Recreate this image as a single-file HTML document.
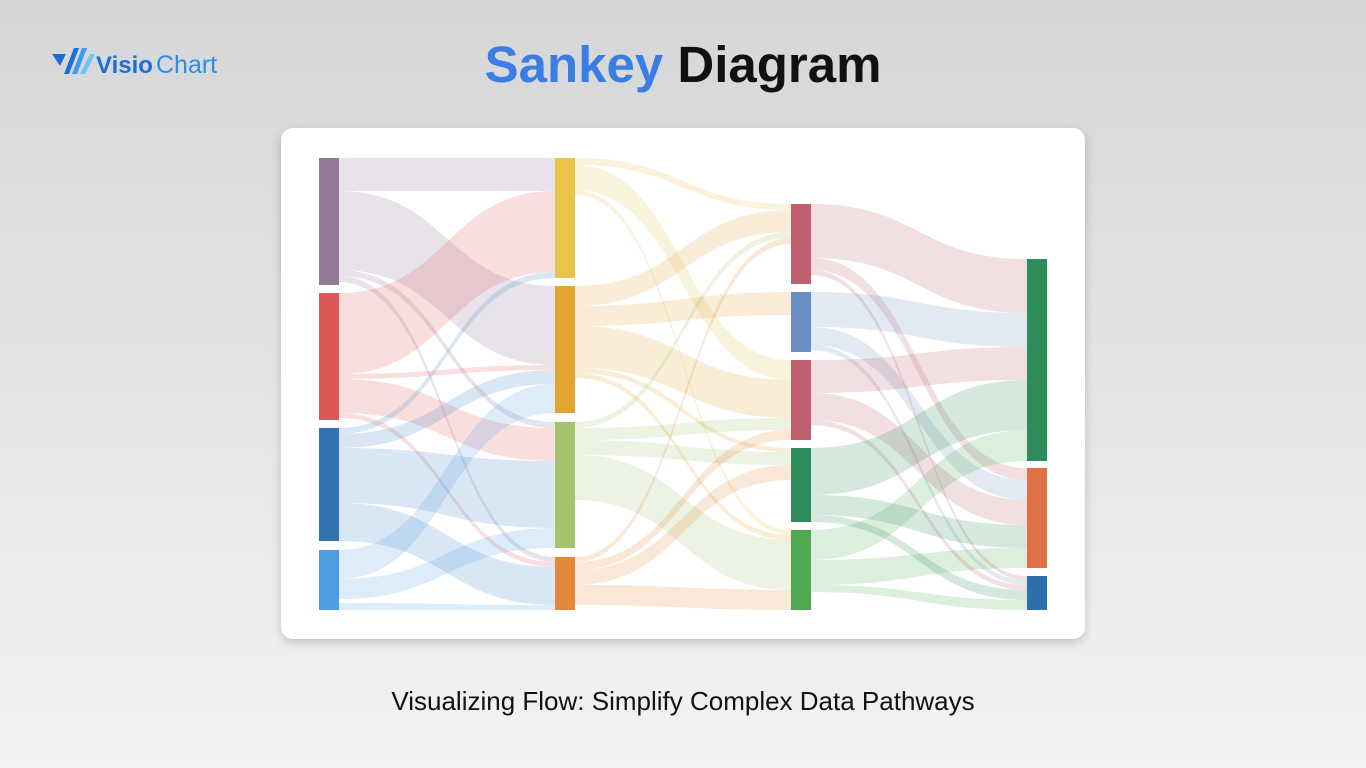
<!DOCTYPE html>
<html><head><meta charset="utf-8"><style>
html,body{margin:0;padding:0}
body{width:1366px;height:768px;overflow:hidden;background:linear-gradient(#d5d6d8,#f3f3f3);font-family:"Liberation Sans",sans-serif;position:relative}
.title{position:absolute;top:35px;left:0;width:1366px;text-align:center;font-size:51px;font-weight:bold;letter-spacing:0px}
.card{position:absolute;left:281px;top:128px;width:804px;height:511px;background:#fff;border-radius:12px;box-shadow:0 4px 10px rgba(0,0,0,0.18)}
.sub{position:absolute;top:686px;left:0;width:1366px;text-align:center;font-size:26px;color:#111}
.logo{position:absolute;left:50px;top:44px}
</style></head><body>
<div class="logo"><svg width="180" height="36">
<polygon points="2,10 16,10 10,22" fill="#1a6fd8"/>
<polygon points="14,30 24,4 29,4 19,30" fill="#1a6fd8"/>
<polygon points="22,30 32,4 37,4 27,30" fill="#3b9cf0"/>
<polygon points="30,30 40,10 45,10 35,30" fill="#6cc4f5"/>
<text x="46" y="29" font-family="Liberation Sans" font-size="24" font-weight="bold" fill="#1a6fd8">Visio</text>
<text x="106" y="29" font-family="Liberation Sans" font-size="25" fill="#2a8ee6">Chart</text>
</svg></div>
<div class="title"><span style="color:#3b7de2">Sankey</span> <span style="color:#111">Diagram</span></div>
<div class="card"></div>
<svg id="s" width="1366" height="768" style="position:absolute;left:0;top:0"></svg>
<div class="sub">Visualizing Flow: Simplify Complex Data Pathways</div>
<script>
var c1=339,c2=555,c3=575,c4=791,c5=811,c6=1027;
var L=[
[c1,158,191,c2,158,191,'#8e7398'],[c1,191,270,c2,286,365,'#8e7398'],[c1,270,276,c2,422,428,'#8e7398'],[c1,276,282,c2,557,562,'#8e7398'],
[c1,293,374,c2,191,272,'#e05a5a'],[c1,374,379,c2,365,370,'#e05a5a'],[c1,379,413,c2,428,461,'#e05a5a'],[c1,413,418,c2,562,567,'#e05a5a'],
[c1,428,434,c2,272,278,'#3f87c9'],[c1,434,448,c2,370,384,'#3f87c9'],[c1,448,503,c2,461,528,'#3f87c9'],[c1,503,541,c2,567,605,'#3f87c9'],
[c1,550,579,c2,384,413,'#5aa0e6'],[c1,579,599,c2,528,548,'#5aa0e6'],[c1,603,610,c2,605,610,'#5aa0e6'],
[c3,158,165,c4,204,210,'#e8c44a'],[c3,165,190,c4,360,380,'#e8c44a'],[c3,190,195,c4,530,535,'#e8c44a'],
[c3,286,306,c4,210,232,'#e3a435'],[c3,306,326,c4,292,315,'#e3a435'],[c3,326,368,c4,380,418,'#e3a435'],[c3,368,373,c4,448,452,'#e3a435'],[c3,373,378,c4,535,540,'#e3a435'],
[c3,422,428,c4,232,238,'#a3c46c'],[c3,428,440,c4,418,430,'#a3c46c'],[c3,440,455,c4,452,465,'#a3c46c'],[c3,455,500,c4,540,590,'#a3c46c'],
[c3,557,562,c4,238,244,'#e3873c'],[c3,562,570,c4,430,440,'#e3873c'],[c3,570,585,c4,465,480,'#e3873c'],[c3,585,605,c4,590,610,'#e3873c'],
[c5,204,258,c6,259,313,'#c0606e'],[c5,258,270,c6,468,480,'#c0606e'],[c5,270,275,c6,576,580,'#c0606e'],
[c5,292,327,c6,313,347,'#6b8fc5'],[c5,327,345,c6,480,500,'#6b8fc5'],[c5,345,350,c6,580,585,'#6b8fc5'],
[c5,360,393,c6,347,380,'#c0606e'],[c5,393,420,c6,500,525,'#c0606e'],[c5,420,425,c6,585,590,'#c0606e'],
[c5,448,495,c6,380,430,'#2e8b5a'],[c5,495,515,c6,525,548,'#2e8b5a'],[c5,515,522,c6,590,600,'#2e8b5a'],
[c5,530,560,c6,430,461,'#4fa84f'],[c5,560,585,c6,548,568,'#4fa84f'],[c5,585,592,c6,600,610,'#4fa84f']
];
var N=[
[319,158,285,'#937898'],[319,293,420,'#e05656'],[319,428,541,'#2f74b0'],[319,550,610,'#4f9de0'],
[555,158,278,'#e8c44a'],[555,286,413,'#e2a532'],[555,422,548,'#a3c46c'],[555,557,610,'#e3873c'],
[791,204,284,'#c0606e'],[791,292,352,'#6b8fc5'],[791,360,440,'#c0606e'],[791,448,522,'#2e8b5a'],[791,530,610,'#4fa84f'],
[1027,259,461,'#2e8b5a'],[1027,468,568,'#e07048'],[1027,576,610,'#2f6fad']
];
var h='';
L.forEach(function(l){var x0=l[0],x1=l[3],m=(x0+x1)/2;
h+='<path d="M'+x0+','+l[1]+' C'+m+','+l[1]+' '+m+','+l[4]+' '+x1+','+l[4]+' L'+x1+','+l[5]+' C'+m+','+l[5]+' '+m+','+l[2]+' '+x0+','+l[2]+' Z" fill="'+l[6]+'" fill-opacity="0.2"/>';});
N.forEach(function(n){h+='<rect x="'+n[0]+'" y="'+n[1]+'" width="20" height="'+(n[2]-n[1])+'" fill="'+n[3]+'"/>';});
document.getElementById('s').innerHTML=h;
</script>
</body></html>
